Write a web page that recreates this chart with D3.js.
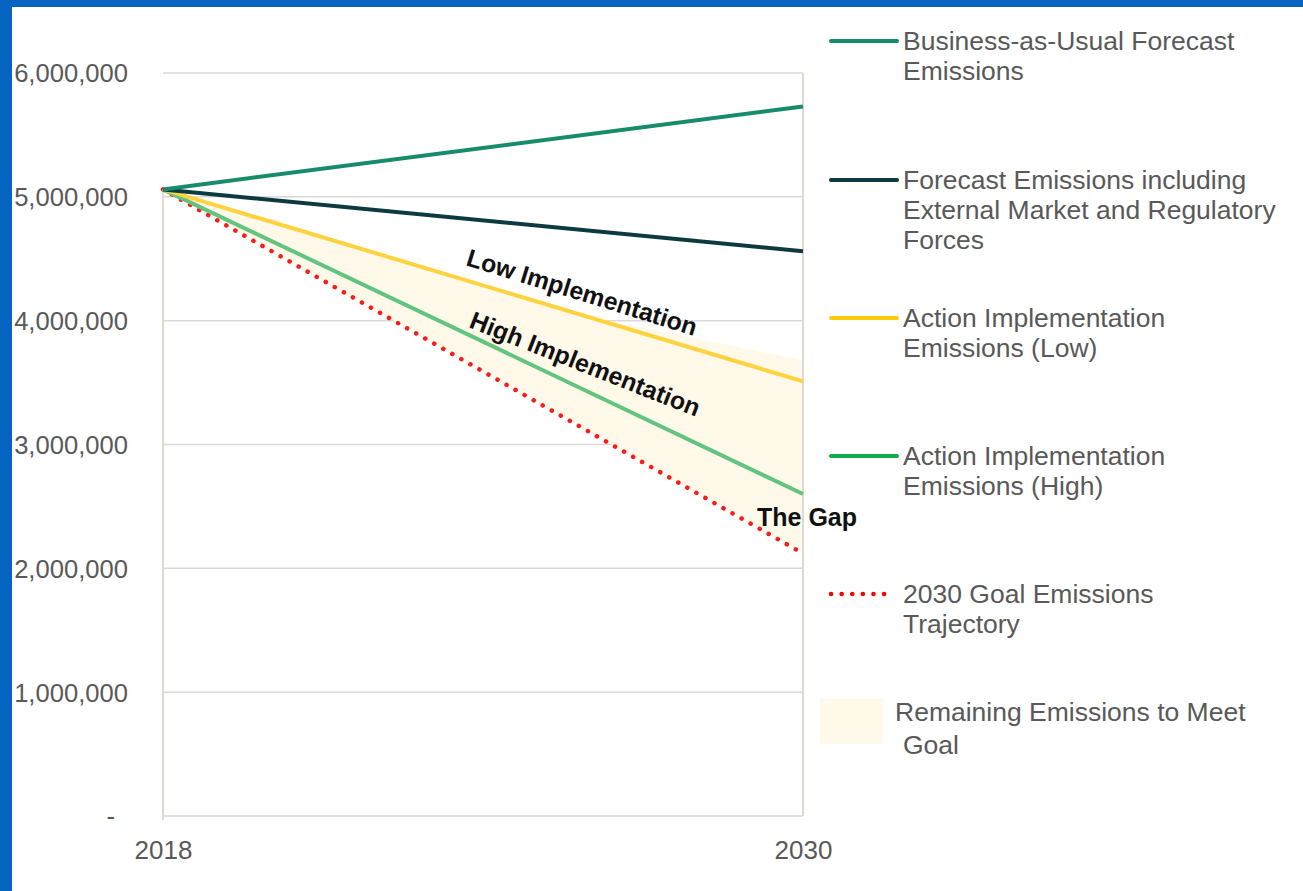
<!DOCTYPE html>
<html>
<head>
<meta charset="utf-8">
<script src="https://cdn.jsdelivr.net/npm/d3@7"></script>
<style>
  html, body { margin: 0; padding: 0; background: #fff; }
  svg { display: block; }
  text { font-family: "Liberation Sans", Arial, sans-serif; }
</style>
</head>
<body>
<svg id="chart" width="1303" height="891"></svg>
<script>
// ---- data ----
const years = [2018, 2030];
const bau = [5060000, 5730000];
const forecastExt = [5060000, 4560000];
const lowImpl = [5060000, 3510000];
const highImpl = [5060000, 2600000];
const goal = [5060000, 2120000];
const gapTopYears = [2018, 2026, 2030];
const gapTop = [5060000, 4030000, 3680000];
const yTicks = [0, 1000000, 2000000, 3000000, 4000000, 5000000, 6000000];
const xTicks = [2018, 2030];

const legendItems = [
  { lines: ["Business-as-Usual Forecast", "Emissions"], color: "#178C6C", type: "line" },
  { lines: ["Forecast Emissions including", "External Market and Regulatory", "Forces"], color: "#0D3A40", type: "line" },
  { lines: ["Action Implementation", "Emissions (Low)"], color: "#FFC90E", type: "line" },
  { lines: ["Action Implementation", "Emissions (High)"], color: "#14AE50", type: "line" },
  { lines: ["2030 Goal Emissions", "Trajectory"], color: "#FF0000", type: "dot" },
  { lines: ["Remaining Emissions to Meet", "Goal"], color: "#FFF9EA", type: "rect" }
];

const svg = d3.select("#chart");

// border
svg.append("rect").attr("x", 0).attr("y", 0).attr("width", 1303).attr("height", 891).attr("fill", "#fff");
svg.append("rect").attr("x", 0).attr("y", 0).attr("width", 1303).attr("height", 7).attr("fill", "#0563C1");
svg.append("rect").attr("x", 0).attr("y", 0).attr("width", 12).attr("height", 891).attr("fill", "#0563C1");

const x = d3.scaleLinear().domain([2018, 2030]).range([163, 803]);
const y = d3.scaleLinear().domain([0, 6000000]).range([816, 73]);

// gridlines
svg.append("g").selectAll("line").data(yTicks.filter(d => d > 0)).join("line")
  .attr("x1", x(2018)).attr("x2", x(2030))
  .attr("y1", d => y(d)).attr("y2", d => y(d))
  .attr("stroke", "#D9D9D9").attr("stroke-width", 1.5);

// gap area
const gapPts = gapTopYears.map((yr, i) => [x(yr), y(gapTop[i])])
  .concat(years.map((yr, i) => [x(yr), y(goal[i])]).reverse());
svg.append("path")
  .attr("d", d3.line()(gapPts) + "Z")
  .attr("fill", "#FFF9EA");

// vertical edges and bottom axis
svg.append("line").attr("x1", x(2018)).attr("x2", x(2018))
  .attr("y1", y(goal[0])).attr("y2", y(0) + 4)
  .attr("stroke", "#DDDAD2").attr("stroke-width", 2);
svg.append("line").attr("x1", x(2030)).attr("x2", x(2030))
  .attr("y1", y(6000000)).attr("y2", y(0))
  .attr("stroke", "#DDDAD2").attr("stroke-width", 2);
svg.append("line").attr("x1", x(2018)).attr("x2", x(2030))
  .attr("y1", y(0)).attr("y2", y(0))
  .attr("stroke", "#D9D9D9").attr("stroke-width", 1.5);

// y axis labels
const yAxis = d3.axisLeft(y).tickValues(yTicks).tickSize(0)
  .tickFormat(d => d === 0 ? "-" : d3.format(",")(d));
const ya = svg.append("g").attr("transform", "translate(131,0)").call(yAxis);
ya.select(".domain").remove();
ya.selectAll("text").attr("font-size", 25.6).attr("fill", "#595959")
  .attr("font-family", "'Liberation Sans', Arial, sans-serif")
  .attr("dx", d => d === 0 ? -13 : 0).attr("dy", "0.35em");

// x axis labels
const xAxis = d3.axisBottom(x).tickValues(xTicks).tickSize(0).tickFormat(d3.format("d"));
const xa = svg.append("g").attr("transform", "translate(0,838)").call(xAxis);
xa.select(".domain").remove();
xa.selectAll("text").attr("font-size", 26).attr("fill", "#595959")
  .attr("font-family", "'Liberation Sans', Arial, sans-serif").attr("dy", "0.7em");

const line = d3.line().x(d => x(d[0])).y(d => y(d[1]));
function series(vals) { return years.map((yr, i) => [yr, vals[i]]); }

svg.append("path").attr("d", line(series(goal))).attr("fill", "none")
  .attr("stroke", "#FF1A1A").attr("stroke-width", 4.5).attr("stroke-linecap", "round")
  .attr("stroke-dasharray", "0.1 10.3");
svg.append("path").attr("d", line(series(highImpl))).attr("fill", "none")
  .attr("stroke", "#62C47F").attr("stroke-width", 4);
svg.append("path").attr("d", line(series(lowImpl))).attr("fill", "none")
  .attr("stroke", "#FFD23F").attr("stroke-width", 4);
svg.append("path").attr("d", line(series(forecastExt))).attr("fill", "none")
  .attr("stroke", "#0D3A40").attr("stroke-width", 4);
svg.append("path").attr("d", line(series(bau))).attr("fill", "none")
  .attr("stroke", "#178C6C").attr("stroke-width", 4);

// annotations
function rotLabel(txt, px, py, ang) {
  svg.append("text").attr("transform", `translate(${px},${py}) rotate(${ang})`)
    .attr("font-size", 24.8).attr("font-weight", "bold").attr("fill", "#111")
    .text(txt);
}
rotLabel("Low Implementation", 465, 265, 17.2);
rotLabel("High Implementation", 468, 327, 21.5);
svg.append("text").attr("x", 757).attr("y", 526).attr("font-size", 25)
  .attr("font-weight", "bold").attr("fill", "#111").text("The Gap");

// legend
const legendY = [41, 180, 318, 456, 594, 721];
legendItems.forEach((it, i) => {
  const g = svg.append("g");
  const cy = legendY[i];
  if (it.type === "line") {
    g.append("line").attr("x1", 831).attr("x2", 897).attr("y1", cy).attr("y2", cy)
      .attr("stroke", it.color).attr("stroke-width", 4).attr("stroke-linecap", "round");
  } else if (it.type === "dot") {
    g.append("line").attr("x1", 831).attr("x2", 892).attr("y1", cy).attr("y2", cy)
      .attr("stroke", it.color).attr("stroke-width", 4.5).attr("stroke-linecap", "round")
      .attr("stroke-dasharray", "0.1 10.5");
  } else {
    g.append("rect").attr("x", 820).attr("y", 699).attr("width", 63).attr("height", 45)
      .attr("fill", it.color);
  }
  it.lines.forEach((t, j) => {
    const tx = (it.type === "rect" && j === 0) ? 895 : 903;
    g.append("text").attr("x", tx).attr("y", it.type === "rect" ? [721, 754][j] : cy + 9 + j * 30)
      .attr("font-size", 26.5).attr("fill", "#595959").text(t);
  });
});
</script>
</body>
</html>
